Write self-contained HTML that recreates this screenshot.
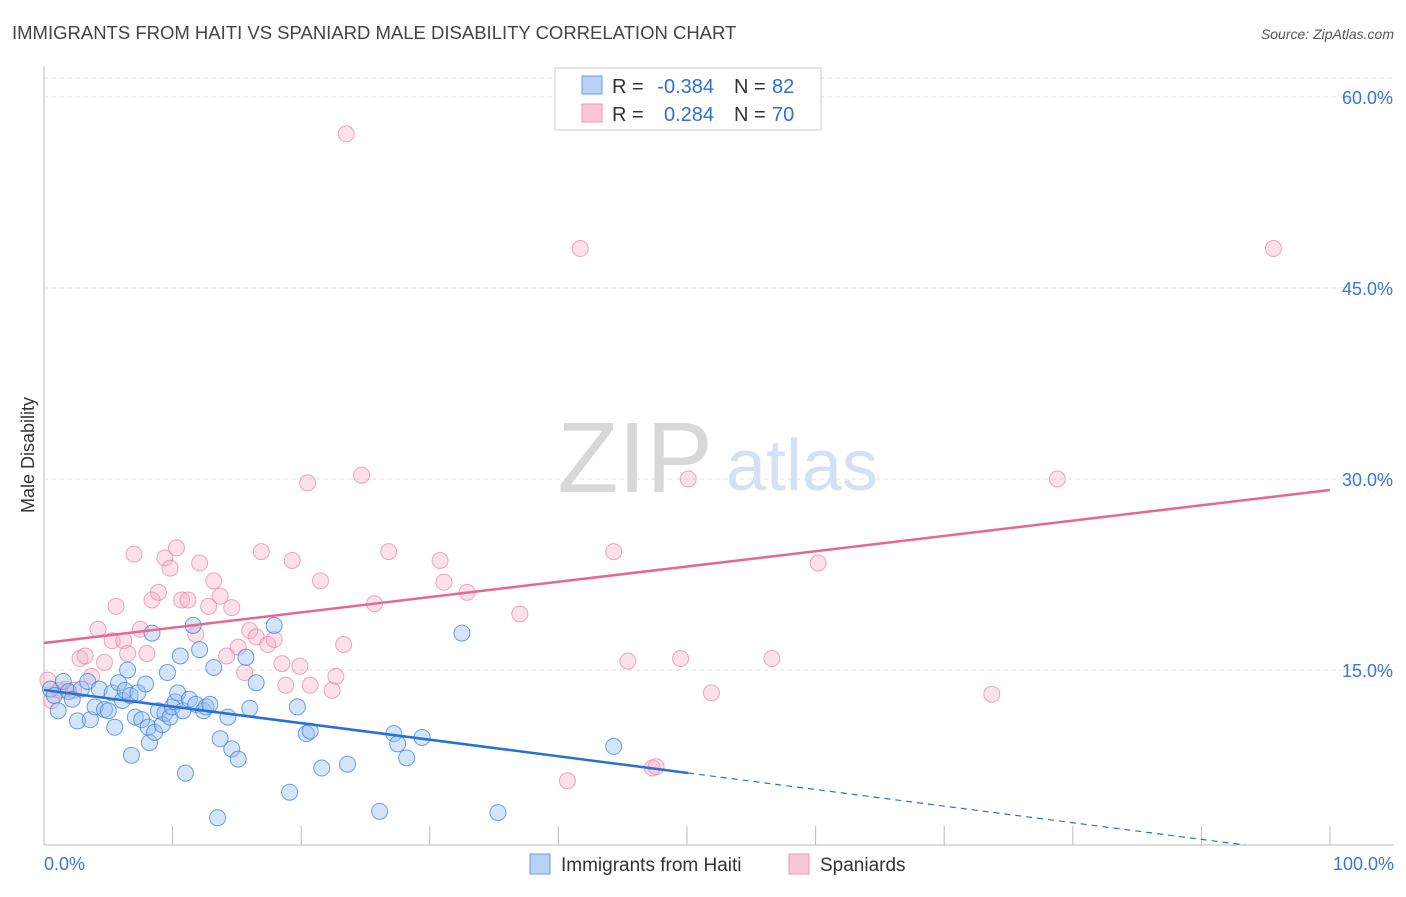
<!DOCTYPE html>
<html><head><meta charset="utf-8"><style>
body{margin:0;background:#fff;font-family:"Liberation Sans",sans-serif;}
svg text{font-family:"Liberation Sans",sans-serif;}
</style></head><body>
<svg id="chart" width="1406" height="892">
<text x="12" y="39" font-size="18.5" fill="#444">IMMIGRANTS FROM HAITI VS SPANIARD MALE DISABILITY CORRELATION CHART</text>
<text x="1394" y="39" font-size="14" fill="#555" font-style="italic" text-anchor="end">Source: ZipAtlas.com</text>
<text x="34" y="455" font-size="18" fill="#333" text-anchor="middle" transform="rotate(-90 34 455)">Male Disability</text>
<g id="grid"></g>
<g><text x="635" y="492" font-size="100" fill="#d8d8d8" font-family="Liberation Serif" text-anchor="middle">ZIP</text><text x="802" y="490" font-size="72" fill="#d3e1f3" text-anchor="middle">atlas</text></g>
<g id="pts"></g>
<g id="lines"></g>
<g>
<rect x="555" y="68" width="266" height="62" fill="#fff" stroke="#ccc"/>
<rect x="582" y="76" width="20" height="18" fill="#b8d2f5" stroke="#6a9ee6"/>
<rect x="582" y="104" width="20" height="18" fill="#f9c8d6" stroke="#ec96b0"/>
<text x="612" y="93" font-size="20" fill="#333">R =</text>
<text x="714" y="93" font-size="20" fill="#2f6fd6" text-anchor="end">-0.384</text>
<text x="734" y="93" font-size="20" fill="#333">N =</text>
<text x="772" y="93" font-size="20" fill="#2f6fd6">82</text>
<text x="612" y="121" font-size="20" fill="#333">R =</text>
<text x="714" y="121" font-size="20" fill="#2f6fd6" text-anchor="end">0.284</text>
<text x="734" y="121" font-size="20" fill="#333">N =</text>
<text x="772" y="121" font-size="20" fill="#2f6fd6">70</text>
</g>
<g>
<rect x="530" y="854" width="20" height="20" fill="#b8d2f5" stroke="#6a9ee6"/>
<text x="561" y="871" font-size="19" fill="#333">Immigrants from Haiti</text>
<rect x="789" y="854" width="20" height="20" fill="#f9c8d6" stroke="#ec96b0"/>
<text x="820" y="871" font-size="19" fill="#333">Spaniards</text>
</g>
</svg>
<script>
const yTicks=[15,30,45,60];
const yTickLabels=["15.0%","30.0%","45.0%","60.0%"];
const xTickLabels=["0.0%","100.0%"];
const haitiX=[0.5,0.8,1.1,1.5,1.9,2.2,2.6,2.9,3.4,3.6,3.97,4.3,4.7,5.0,5.3,5.5,5.8,6.1,6.3,6.5,6.7,6.8,7.1,7.3,7.6,7.9,8.1,8.2,8.4,8.6,8.9,9.2,9.4,9.6,9.8,9.97,10.2,10.4,10.6,10.8,11.0,11.3,11.6,11.8,12.1,12.4,12.6,12.9,13.2,13.5,13.7,14.3,14.6,15.1,15.7,16.0,16.5,17.9,19.1,19.7,20.4,20.7,21.6,23.6,26.1,27.2,27.5,28.2,29.4,32.5,35.3,44.3];
const haitiY=[13.5,13.0,11.8,14.1,13.3,12.7,11.0,13.5,14.1,11.1,12.1,13.5,11.9,11.8,13.2,10.5,14.0,12.6,13.4,15.0,13.0,8.3,11.3,13.2,11.1,13.9,10.5,9.3,17.9,10.1,11.8,10.7,11.6,14.8,11.3,12.1,12.5,13.2,16.1,11.8,6.9,12.7,18.5,12.3,16.6,11.8,12.1,12.3,15.2,3.4,9.6,11.3,8.8,8.0,16.0,12.0,14.0,18.5,5.4,12.1,10.0,10.2,7.3,7.6,3.9,10.0,9.2,8.1,9.7,17.9,3.8,9.0];
const spainX=[0.3,0.6,1.2,1.7,2.3,2.8,3.2,3.7,4.2,4.7,5.3,5.6,6.2,6.5,7.0,7.5,8.0,8.4,8.9,9.4,9.8,10.3,10.7,11.2,11.8,12.1,12.8,13.2,13.7,14.2,14.6,15.1,15.6,16.0,16.5,16.9,17.4,17.9,18.5,18.8,19.3,19.9,20.5,20.7,21.5,22.4,22.7,23.3,23.5,24.7,25.7,26.8,30.8,31.1,32.9,37.0,40.7,41.7,44.3,45.4,47.3,47.6,49.5,50.1,51.9,56.6,60.2,73.7,78.8,95.6];
const spainY=[14.2,12.6,13.4,13.5,13.4,15.9,16.1,14.5,18.2,15.6,17.3,20.0,17.3,16.3,24.1,18.2,16.3,20.5,21.1,23.8,23.0,24.6,20.5,20.5,17.8,23.4,20.0,22.0,20.8,16.1,19.9,16.8,14.8,18.1,17.6,24.3,17.0,17.4,15.5,13.8,23.6,15.3,29.7,13.8,22.0,13.4,14.5,17.0,57.1,30.3,20.2,24.3,23.6,21.9,21.1,19.4,6.3,48.1,24.3,15.7,7.3,7.4,15.9,30.0,13.2,15.9,23.4,13.1,30.0,48.1];
const X0=44,X1=1330,YZ=861,YS=191/15;
const sx=v=>X0+(X1-X0)*v/100, sy=v=>YZ-v*YS;
const NS="http://www.w3.org/2000/svg";
function mk(tag,attrs,parent){const e=document.createElementNS(NS,tag);for(const k in attrs)e.setAttribute(k,attrs[k]);parent.appendChild(e);return e;}
const grid=document.getElementById('grid');
let ax=mk('line',{x1:44,y1:66,x2:44,y2:845,stroke:'#bbb'},grid);


let bx=mk('line',{x1:44,y1:845,x2:1394,y2:845,stroke:'#bbb'},grid);


yTicks.forEach((t,i)=>{
  let g=mk('line',{x1:44,x2:1394,y1:sy(t),y2:sy(t),stroke:'#ddd','stroke-dasharray':'4,4'},grid);
  
  
  let l=mk('text',{x:1393,y:sy(t)+7,'font-size':18,fill:'#3a76d8','text-anchor':'end'},grid);
  l.textContent=yTickLabels[i];
  
  
});
let g0=mk('line',{x1:44,x2:1394,y1:sy(60)-19,y2:sy(60)-19,stroke:'#ddd','stroke-dasharray':'4,4'},grid);
for(let i=0;i<=10;i++){
  let t=mk('line',{x1:sx(i*10),x2:sx(i*10),y1:826,y2:845,stroke:'#bbb'},grid);
  
  
}
[[0,'start',44],[1,'end',1394]].forEach(([i,a,x])=>{
  let l=mk('text',{x:x,y:870,'font-size':18,fill:'#3a76d8','text-anchor':a},grid);
  l.textContent=xTickLabels[i];
  
  
});
const pts=document.getElementById('pts');
spainX.forEach((v,i)=>{
  let c=mk('circle',{cx:sx(v),cy:sy(spainY[i]),r:8,fill:'rgba(246,170,195,0.35)',stroke:'rgba(232,130,165,0.7)','stroke-width':1},pts);
  
  
});
haitiX.forEach((v,i)=>{
  let c=mk('circle',{cx:sx(v),cy:sy(haitiY[i]),r:8,fill:'rgba(150,190,240,0.4)',stroke:'rgba(60,130,220,0.75)','stroke-width':1},pts);
  
  
});
const lines=document.getElementById('lines');
let pl=mk('line',{x1:sx(0),y1:643,x2:sx(100),y2:490,stroke:'#e8678f','stroke-width':2.5},lines);


let bl=mk('line',{x1:sx(0),y1:690,x2:688,y2:773,stroke:'#2a6fd6','stroke-width':2.5},lines);


let bd=mk('line',{x1:688,y1:773,x2:1245,y2:845,stroke:'#2a6fd6','stroke-width':1.2,'stroke-dasharray':'6,5'},lines);


</script>
</body></html>
